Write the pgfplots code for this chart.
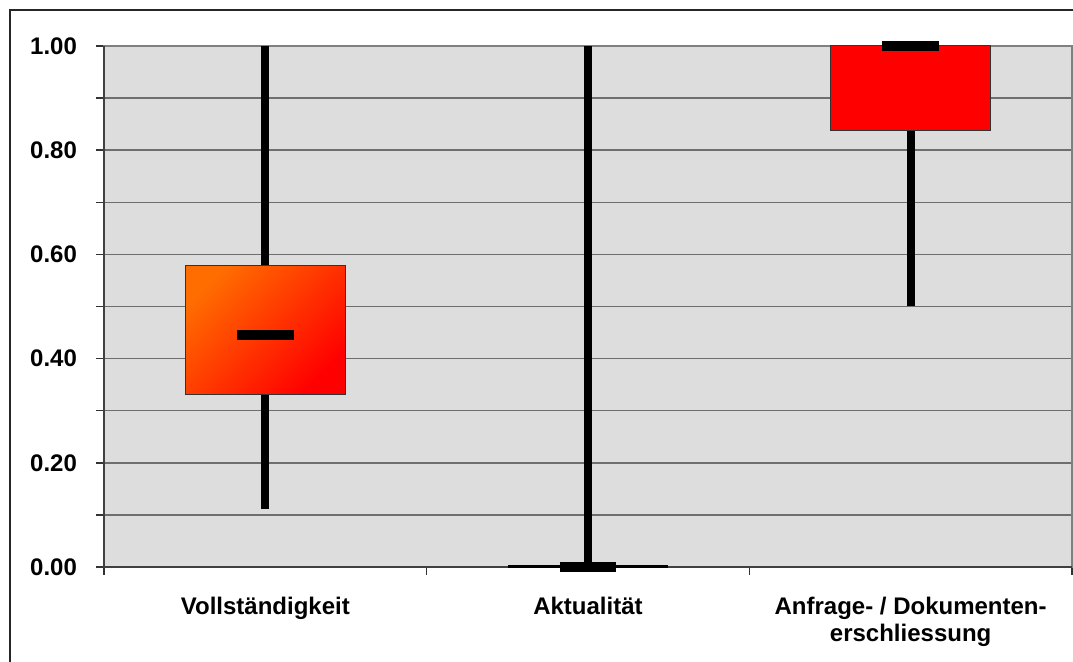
\documentclass[border=0pt]{standalone}
\usepackage{fontspec}
\setmainfont{Liberation Sans}
\usepackage{pgfplots}
\pgfplotsset{compat=1.18}
\definecolor{bg}{RGB}{221,221,221}
\definecolor{gridc}{RGB}{110,110,110}
\definecolor{boxorange}{RGB}{255,108,0}
\definecolor{boxred}{RGB}{255,0,0}
\begin{document}
\begin{tikzpicture}
\begin{axis}[
 at={(0,0)}, anchor=south west,
 scale only axis, width=484pt, height=260.5pt,
 xmin=-0.5, xmax=2.5, ymin=0, ymax=1,
 clip=false,
 axis background/.style={fill=bg},
 axis line style={draw=gray, line width=0.75pt},
 xtick={0,1,2},
 xticklabels={Vollständigkeit, Aktualität, {Anfrage- / Dokumenten-\\erschliessung}},
 xticklabel style={align=center, yshift=-7.5pt, font=\bfseries\fontsize{12}{13.5}\selectfont},
 major x tick style={draw=none},
 minor xtick={-0.5,0.5,1.5,2.5},
 ytick={0,0.2,0.4,0.6,0.8,1},
 minor ytick={0.1,0.3,0.5,0.7,0.9},
 ymajorgrids, yminorgrids,
 major grid style={gridc, line width=0.75pt},
 minor grid style={gridc, line width=0.75pt},
 tick align=outside, tick pos=left,
 major tick length=4pt, minor tick length=4pt,
 tick style={black!80, line width=0.75pt},
 yticklabel style={xshift=-6pt, font=\bfseries\fontsize{12}{13.5}\selectfont},
 /pgf/number format/.cd, fixed, fixed zerofill, precision=2, assume math mode=true,
]
\draw[black!75, line width=0.75pt] (rel axis cs:0,1) -- (rel axis cs:0,0) -- (rel axis cs:1,0);
% whiskers
\addplot[black, line width=4pt] coordinates {(0,0.111) (0,1)};
\addplot[black, line width=4pt] coordinates {(1,0) (1,1)};
\addplot[black, line width=4pt] coordinates {(2,0.501) (2,1)};
% boxes
\addplot[draw=black!80, line width=0.5pt, top color=boxorange, bottom color=boxred, shading angle=45]
  coordinates {(-0.2475,0.332) (0.2475,0.332) (0.2475,0.578) (-0.2475,0.578) (-0.2475,0.332)};
\addplot[black, line width=1.5pt] coordinates {(0.7525,0) (1.2475,0)};
\addplot[draw=black!80, fill=boxred, line width=0.5pt]
  coordinates {(1.7525,0.837) (2.2475,0.837) (2.2475,1) (1.7525,1) (1.7525,0.837)};
% medians
\addplot[black, line width=5pt] coordinates {(-0.088,0.445) (0.088,0.445)};
\addplot[black, line width=5pt] coordinates {(0.912,0) (1.088,0)};
\addplot[black, line width=5pt] coordinates {(1.912,1.0) (2.088,1.0)};
\end{axis}
\pgfresetboundingbox
\draw[black!85, line width=0.75pt] (-47pt,-47.5pt) -- (-47pt,278.5pt) -- (484.5pt,278.5pt);
\pgfresetboundingbox
\useasboundingbox (-52pt,-47.5pt) rectangle (484.5pt,283.5pt);
\end{tikzpicture}
\end{document}
